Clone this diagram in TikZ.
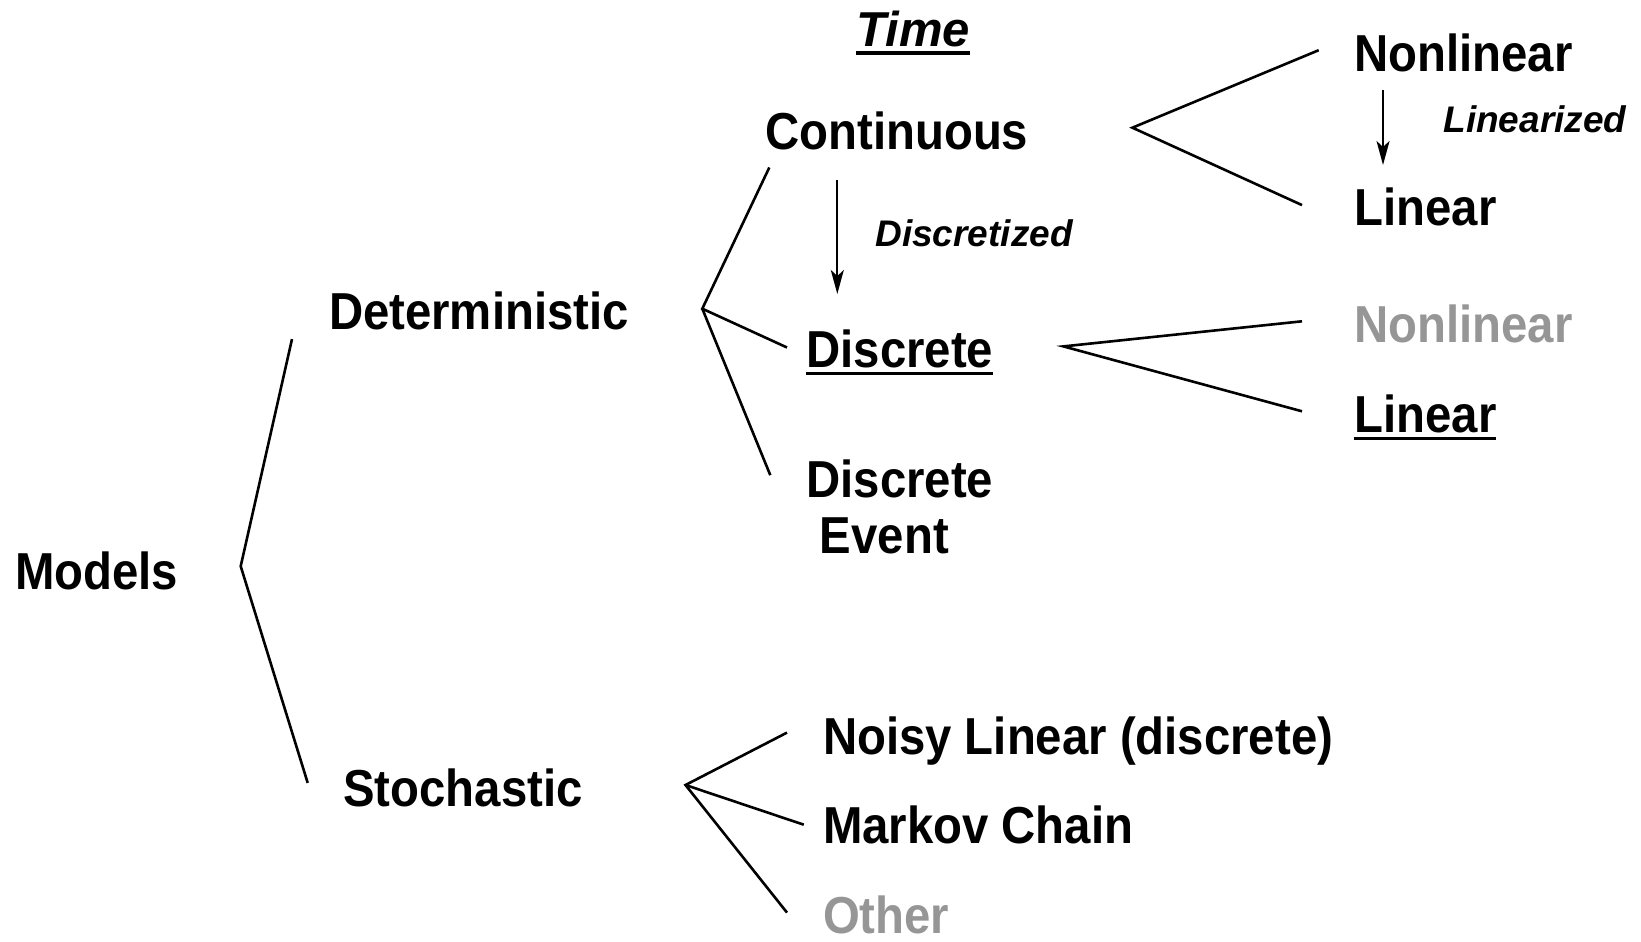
\documentclass[tikz,border=0pt]{standalone}
\usepackage{fontspec}
\setmainfont{Liberation Sans}[FakeStretch=0.91]
\newfontfamily\lblfont{Liberation Sans}
\usetikzlibrary{arrows.meta}

\definecolor{dimtext}{RGB}{150,150,150}
\newcommand{\undl}[2][1.5pt]{\setbox0\hbox{#2}\rlap{\rule[-3.8pt]{\wd0}{#1}}\box0}

\begin{document}
\begin{tikzpicture}[x=0.5pt,y=-0.5pt,
  big/.style={anchor=base west, inner sep=0pt, font=\fontsize{26}{28.25}\selectfont\bfseries},
  note/.style={anchor=base west, inner sep=0pt, font=\lblfont\fontsize{18.5}{20}\selectfont\bfseries\itshape},
  dimmed/.style={text=dimtext},
  branch/.style={line width=1.3pt},
  step arrow/.style={line width=1pt, -{Stealth[length=12pt, width=6.5pt, inset=3pt]}}]
\useasboundingbox (0,0) rectangle (1641,941);

\node (time) at (856,47) [note, font=\lblfont\fontsize{24.5}{26}\selectfont\bfseries\itshape]{\undl[2pt]{Time}};

\node (models) at (14.7,589) [big]{Models};
\node (det) at (328.6,329.7) [big]{Deterministic};
\node (sto) at (343,806) [big]{Stochastic};

\node (cont) at (765,149.7) [big]{Continuous};
\node (disc) at (806,367) [big]{\undl{Discrete}};
\node (devent) at (806,459) [big, anchor=north west, align=left]{Discrete\\\hspace*{6.75pt}Event};

\node (noisy) at (822.6,754.6) [big]{Noisy Linear (discrete)};
\node (markov) at (822.6,843.6) [big]{Markov Chain};
\node (other) at (822.6,933.5) [big, dimmed]{Other};

\node (nl1) at (1354,71.2) [big]{Nonlinear};
\node (lin1) at (1354,226) [big]{Linear};
\node (nl2) at (1354,342) [big, dimmed]{Nonlinear};
\node (lin2) at (1354,432) [big]{\undl{Linear}};

\node (discretized) at (875,246.7) [note]{Discretized};
\node (linearized) at (1443,133) [note]{Linearized};

\coordinate (mfork) at (240.7,566.2);
\coordinate (dfork) at (702.3,308.7);
\coordinate (sfork) at (685.5,785);
\coordinate (cfork) at (1132.4,127.7);
\coordinate (kfork) at (1063.4,346.4);

\draw [branch] ([shift={(-36.6,9.4)}]det.base west) -- (mfork) -- ([shift={(-35.3,-23.1)}]sto.base west);

\draw [branch] ([shift={(4.3,17.8)}]cont.base west) -- (dfork) -- ([shift={(-19,-19.5)}]disc.base west);
\draw [branch] (dfork) -- ([shift={(-35.7,16.2)}]devent.north west);

\draw [branch] ([shift={(-35.6,-22)}]noisy.base west) -- (sfork) -- ([shift={(-35.6,-20.9)}]other.base west);
\draw [branch] (sfork) -- ([shift={(-18.8,-18.9)}]markov.base west);

\draw [branch] ([shift={(-35.3,-21)}]nl1.base west) -- (cfork) -- ([shift={(-52,-20.9)}]lin1.base west);
\draw [branch] ([shift={(-52,-20.7)}]nl2.base west) -- (kfork) -- ([shift={(-52,-20.7)}]lin2.base west);

\draw [step arrow] ([shift={(72.3,30.3)}]cont.base west) -- ([shift={(31.3,-73)}]disc.base west);
\draw [step arrow] ([shift={(29,18.8)}]nl1.base west) -- ([shift={(29,-61)}]lin1.base west);

\end{tikzpicture}
\end{document}
